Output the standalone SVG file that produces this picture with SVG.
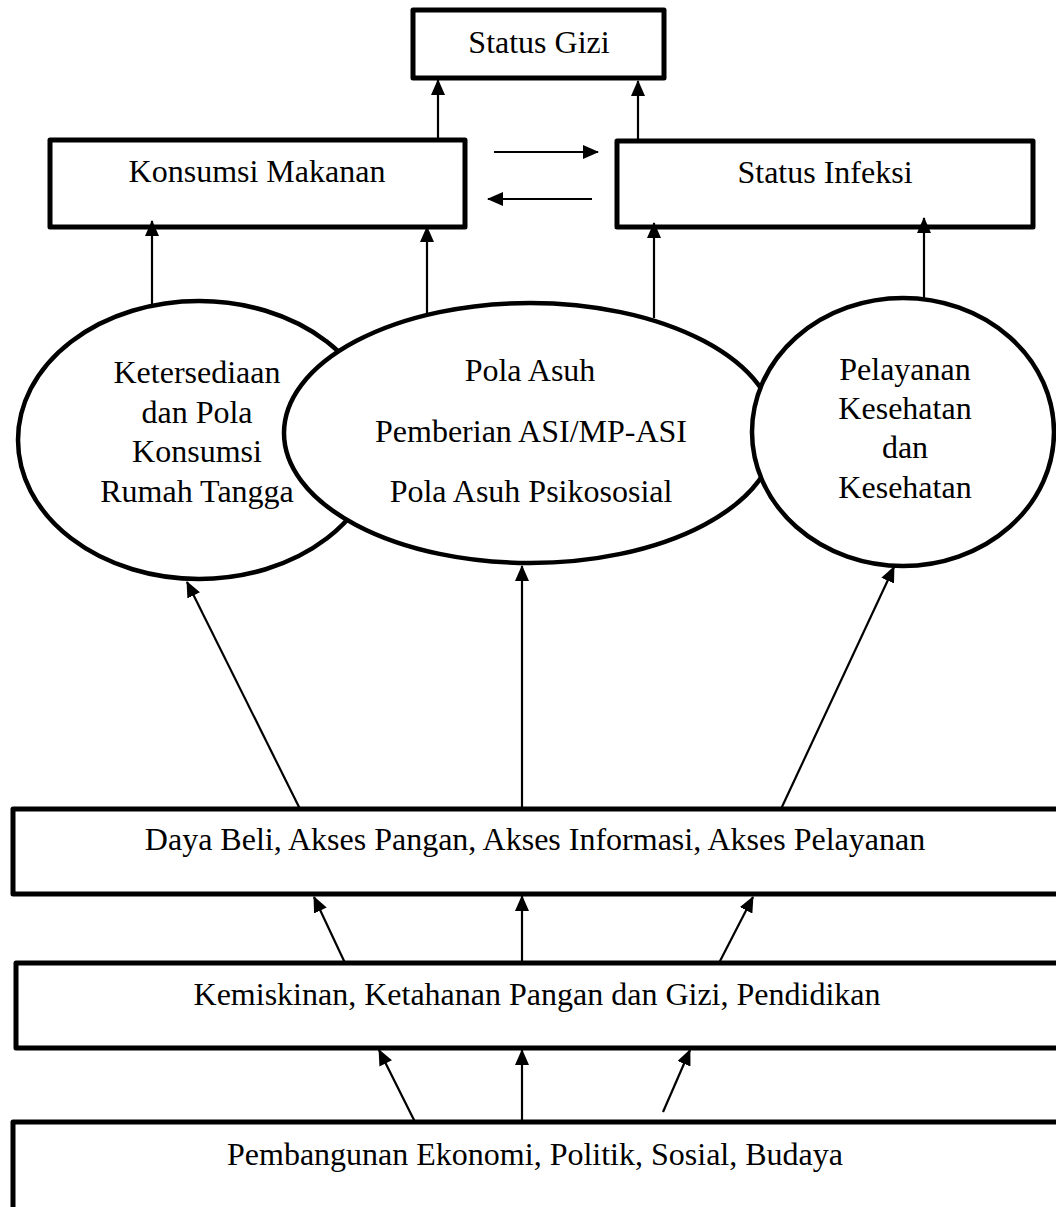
<svg xmlns="http://www.w3.org/2000/svg" width="1056" height="1207" viewBox="0 0 1056 1207">
<defs>
<style>
.box{fill:none;stroke:#000;stroke-width:5;stroke-linejoin:round}
.ell{fill:#fff;stroke:#000;stroke-width:4.5}
.lbl{font-family:"Liberation Serif","Times New Roman",serif;font-size:32px;fill:#000;text-anchor:middle}
.con line{stroke:#000;stroke-width:2.2;marker-end:url(#ah)}
</style>
<marker id="ah" markerUnits="userSpaceOnUse" markerWidth="16" markerHeight="14" refX="15" refY="7" orient="auto">
<path d="M0,0 L16,7 L0,14 z" fill="#000"/>
</marker>
</defs>
<rect width="1056" height="1207" fill="#fff"/>
<g id="connectors" class="con">
<line x1="438" y1="140" x2="438" y2="80"/>
<line x1="638" y1="141" x2="638" y2="81"/>
<line x1="494" y1="152" x2="598" y2="152"/>
<line x1="592" y1="199" x2="488" y2="199"/>
<line x1="152" y1="308" x2="152" y2="221"/>
<line x1="427" y1="316" x2="427" y2="227"/>
<line x1="654" y1="318" x2="654" y2="223"/>
<line x1="924" y1="300" x2="924" y2="218"/>
<line x1="300" y1="809" x2="187" y2="582"/>
<line x1="522" y1="809" x2="522" y2="566"/>
<line x1="781" y1="809" x2="894" y2="567"/>
<line x1="345" y1="963" x2="314" y2="897"/>
<line x1="522" y1="963" x2="522" y2="896"/>
<line x1="719" y1="963" x2="753" y2="897"/>
<line x1="415" y1="1122" x2="379" y2="1050"/>
<line x1="522" y1="1122" x2="522" y2="1050"/>
<line x1="663" y1="1112" x2="690" y2="1050"/>
</g>
<g id="status-gizi">
<rect class="box" x="413" y="10" width="251" height="68"/>
<text class="lbl" x="539" y="53">Status Gizi</text>
</g>
<g id="konsumsi-makanan">
<rect class="box" x="50" y="140" width="415" height="87"/>
<text class="lbl" x="257" y="182">Konsumsi Makanan</text>
</g>
<g id="status-infeksi">
<rect class="box" x="617" y="141" width="416" height="86"/>
<text class="lbl" x="825" y="183">Status Infeksi</text>
</g>
<g id="ketersediaan">
<ellipse class="ell" cx="199" cy="440" rx="181" ry="139"/>
<text class="lbl" x="197" y="383">Ketersediaan</text>
<text class="lbl" x="197" y="423">dan Pola</text>
<text class="lbl" x="197" y="462">Konsumsi</text>
<text class="lbl" x="197" y="502">Rumah Tangga</text>
</g>
<g id="pola-asuh">
<ellipse class="ell" cx="530" cy="433" rx="246" ry="130"/>
<text class="lbl" x="530" y="381">Pola Asuh</text>
<text class="lbl" x="531" y="442">Pemberian ASI/MP-ASI</text>
<text class="lbl" x="531" y="502">Pola Asuh Psikososial</text>
</g>
<g id="pelayanan-kesehatan">
<ellipse class="ell" cx="903" cy="432" rx="151" ry="134"/>
<text class="lbl" x="905" y="380">Pelayanan</text>
<text class="lbl" x="905" y="419">Kesehatan</text>
<text class="lbl" x="905" y="458">dan</text>
<text class="lbl" x="905" y="498">Kesehatan</text>
</g>
<g id="daya-beli">
<rect class="box" x="13" y="809" width="1052" height="85"/>
<text class="lbl" x="535" y="850">Daya Beli, Akses Pangan, Akses Informasi, Akses Pelayanan</text>
</g>
<g id="kemiskinan">
<rect class="box" x="16" y="963" width="1049" height="85"/>
<text class="lbl" x="537" y="1005">Kemiskinan, Ketahanan Pangan dan Gizi, Pendidikan</text>
</g>
<g id="pembangunan">
<rect class="box" x="13" y="1122" width="1052" height="100"/>
<text class="lbl" x="535" y="1165">Pembangunan Ekonomi, Politik, Sosial, Budaya</text>
</g>
</svg>
